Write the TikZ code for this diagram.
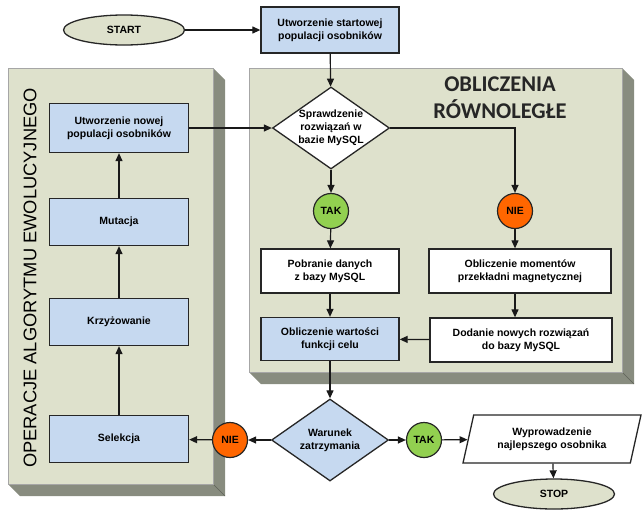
\documentclass[tikz,border=0pt]{standalone}
\usepackage{fontspec}
\setmainfont{Liberation Sans}
\newfontfamily\naglowek{Carlito}
\usepackage{tikz}
\usetikzlibrary{shapes.geometric,arrows.meta,positioning}
\definecolor{niebieski}{RGB}{198,217,240}
\definecolor{oliwka}{RGB}{222,225,204}
\definecolor{cien}{RGB}{136,140,127}
\definecolor{zielony}{RGB}{146,208,80}
\definecolor{pomaranczowy}{RGB}{255,102,0}
\newcommand{\tekst}{\fontsize{10.5}{13}\selectfont\bfseries}
\newcommand{\ramka}[4]{%
  \fill[cien] (#3,#2) -- (#3+12,#2+12) -- (#3+12,#4+12) -- (#1+12,#4+12) -- (#1,#4) -- (#3,#4) -- cycle;
  \draw[cien!70!black, line width=0.5pt] (#3,#4) -- (#3+12,#4+12);
  \filldraw[fill=oliwka, draw=black!35, line width=0.6pt] (#1,#2) rectangle (#3,#4);}
\tikzstyle{blok} = [draw=black!85, line width=1.3pt, rectangle, minimum width=138pt, minimum height=46pt, align=center, font=\tekst, inner sep=2pt]
\tikzstyle{blokn} = [blok, fill=niebieski]
\tikzstyle{blokb} = [blok, fill=white]
\tikzstyle{terminal} = [draw=black!85, line width=1.3pt, ellipse, fill=oliwka, minimum width=121pt, minimum height=30pt, font=\tekst]
\tikzstyle{decyzja} = [draw=black!85, line width=1.3pt, diamond, aspect=1.4, inner sep=-8pt, minimum width=117pt, minimum height=82pt, align=center, font=\tekst]
\tikzstyle{tak} = [circle, draw=black!85, line width=1.2pt, fill=zielony, minimum size=35pt, inner sep=0pt, font=\tekst]
\tikzstyle{nie} = [tak, fill=pomaranczowy]
\tikzstyle{wyjscie} = [draw=black!85, line width=1.3pt, trapezium, trapezium left angle=75, trapezium right angle=105, trapezium stretches=true, fill=white, minimum width=178pt, minimum height=48pt, align=center, font=\tekst]
\tikzstyle{strzalka} = [-{Triangle[length=8pt,width=7pt]}, line width=1.2pt, black!90]
\begin{document}
\begin{tikzpicture}[x=1pt,y=-1pt]
	\useasboundingbox (0,0) rectangle (642,517);
	% ramki
	\ramka{8}{68}{213}{484}
	\ramka{249}{68}{622}{372}
	\node[rotate=90, font=\fontsize{18.3}{20}\selectfont, text=black] (ewo) at (30,278) {OPERACJE ALGORYTMU EWOLUCYJNEGO};
	\node[align=center, font=\naglowek\bfseries\fontsize{22.5}{27}\selectfont, text=black!85] (rown) at (500,98) {OBLICZENIA\\RÓWNOLEGŁE};
	% bloki
	\node[terminal] (start) at (124,30) {START};
	\node[blokn] (pocz) at (330,30) {Utworzenie startowej\\populacji osobników};
	\node[decyzja, fill=white] (spr) at (331,128) {Sprawdzenie\\rozwiązań w\\bazie MySQL};
	\node[blokn, minimum width=139pt, minimum height=49pt] (nowa) at (119,128) {Utworzenie nowej\\populacji osobników};
	\node[tak] (tak1) at (331,211) {TAK};
	\node[nie] (nie1) at (515,211) {NIE};
	\node[blokb, minimum height=44pt] (pobr) at (330,271) {Pobranie danych\\z bazy MySQL};
	\node[blokb, minimum width=182pt, minimum height=44pt] (mom) at (520,271) {Obliczenie momentów\\przekładni magnetycznej};
	\node[blokn, minimum height=43pt] (warf) at (330,339) {Obliczenie wartości\\funkcji celu};
	\node[blokb, minimum width=182pt, minimum height=44pt] (dod) at (521,340) {Dodanie nowych rozwiązań\\do bazy MySQL};
	\node[blokn, minimum width=139pt, minimum height=47pt] (mut) at (119,222) {Mutacja};
	\node[blokn, minimum width=139pt, minimum height=47pt] (krz) at (119,322) {Krzyżowanie};
	\node[blokn, minimum width=139pt, minimum height=47pt] (sel) at (119,439) {Selekcja};
	\node[decyzja, fill=niebieski] (war) at (330,440) {Warunek\\zatrzymania};
	\node[nie] (nie2) at (230,440) {NIE};
	\node[tak] (tak2) at (424,440) {TAK};
	\node[wyjscie] (wyp) at (552,439) {Wyprowadzenie\\najlepszego osobnika};
	\node[terminal] (stop) at (554,494) {STOP};
	% polaczenia
	\draw[strzalka] (start) -- (pocz);
	\draw[strzalka] (pocz) -- (spr);
	\draw[strzalka] (nowa) -- (spr);
	\draw[strzalka] (spr) -- (tak1);
	\draw[strzalka] (spr.east) -| (nie1);
	\draw[strzalka] (tak1) -- (pobr);
	\draw[strzalka] (pobr) -- (warf);
	\draw[strzalka] (nie1) -- (nie1 |- mom.north);
	\draw[strzalka] (nie1 |- mom.south) -- (nie1 |- dod.north);
	\draw[strzalka] (dod) -- (warf);
	\draw[strzalka] (warf) -- (war);
	\draw[strzalka] (war) -- (nie2);
	\draw[strzalka] (nie2) -- (sel);
	\draw[strzalka] (war) -- (tak2);
	\draw[strzalka] (tak2) -- (wyp);
	\draw[strzalka] (wyp) -- (stop);
	\draw[strzalka] (sel) -- (krz);
	\draw[strzalka] (krz) -- (mut);
	\draw[strzalka] (mut) -- (nowa);
\end{tikzpicture}
\end{document}
